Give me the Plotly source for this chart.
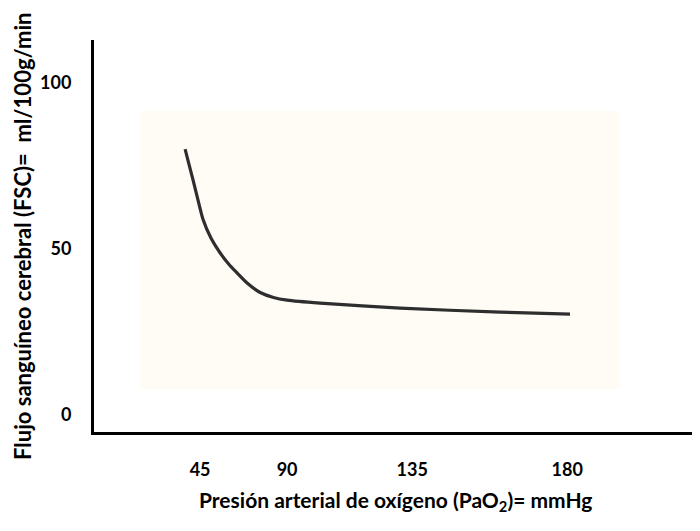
import plotly.graph_objects as go

# Data (PaO2 axis units, CBF ml/100g/min)
pao2 = [39.5, 40.9, 42.4, 44.2, 46.1, 49.0, 52.4, 55.5, 58.6, 62.5, 67.1, 72.0, 77.0, 89.1, 118.5, 155.3, 181.0]
cbf = [80.1, 75.6, 70.8, 64.9, 58.9, 53.3, 48.8, 45.5, 42.8, 39.6, 36.9, 35.4, 34.6, 33.7, 32.2, 31.0, 30.4]

x_tick_text = ["45", "90", "135", "180"]
x_tick_pos = [45, 77, 123, 180]
y_tick_vals = [0, 50, 100]
y_tick_text = ["0", "50", "100"]

FONT = "Lato, 'Open Sans', sans-serif"

# page body has an 8px margin: figure occupies screen x 8..700, y 8..523
W, H = 692, 515
L, T = 86, 32
B = H - 424
PW, PH = W - L, 424 - T

fig = go.Figure()
fig.add_trace(go.Scatter(
    x=pao2, y=cbf, mode="lines",
    line=dict(color="#2e2e2e", width=3.2, shape="spline", smoothing=0.7),
    hoverinfo="skip", showlegend=False,
))

fig.add_shape(type="rect", xref="paper", yref="paper",
              x0=(140 - 94) / PW, x1=(620 - 94) / PW,
              y0=(432 - 389) / PH, y1=(432 - 111) / PH,
              fillcolor="#FEFCF4", line=dict(width=0), layer="below")

fig.update_xaxes(
    range=[6.0, 228.8], showline=True, linecolor="black", linewidth=3,
    showgrid=False, zeroline=False,
    tickvals=x_tick_pos, ticktext=x_tick_text,
    ticks="outside", ticklen=19, tickcolor="rgba(0,0,0,0)",
    tickfont=dict(family=FONT, size=18, color="black", weight="bold"),
)
fig.update_yaxes(
    range=[-5.1, 112.95], showline=True, linecolor="black", linewidth=3,
    showgrid=False, zeroline=False,
    tickvals=y_tick_vals, ticktext=y_tick_text,
    ticks="outside", ticklen=16, tickcolor="rgba(0,0,0,0)",
    tickfont=dict(family=FONT, size=18, color="black", weight="bold"),
)

fig.add_annotation(
    text="Presión arterial de oxígeno (PaO<sub>2</sub>)= mmHg",
    xref="paper", yref="paper", x=(395 - 94) / PW, y=-(501 - 432) / PH,
    showarrow=False, xanchor="center", yanchor="middle",
    font=dict(family=FONT, size=21, color="black", weight="bold"),
)
fig.add_annotation(
    text="Flujo sanguíneo cerebral (FSC)=  ml/100g/min",
    xref="paper", yref="paper", x=-(94 - 22) / PW, y=(432 - 236) / PH,
    showarrow=False, xanchor="center", yanchor="middle", textangle=-90,
    font=dict(family=FONT, size=22, color="black", weight="bold"),
)

fig.update_layout(
    width=W, height=H,
    margin=dict(l=L, r=0, t=T, b=B),
    paper_bgcolor="white", plot_bgcolor="white",
)

fig.write_html("out.html")
